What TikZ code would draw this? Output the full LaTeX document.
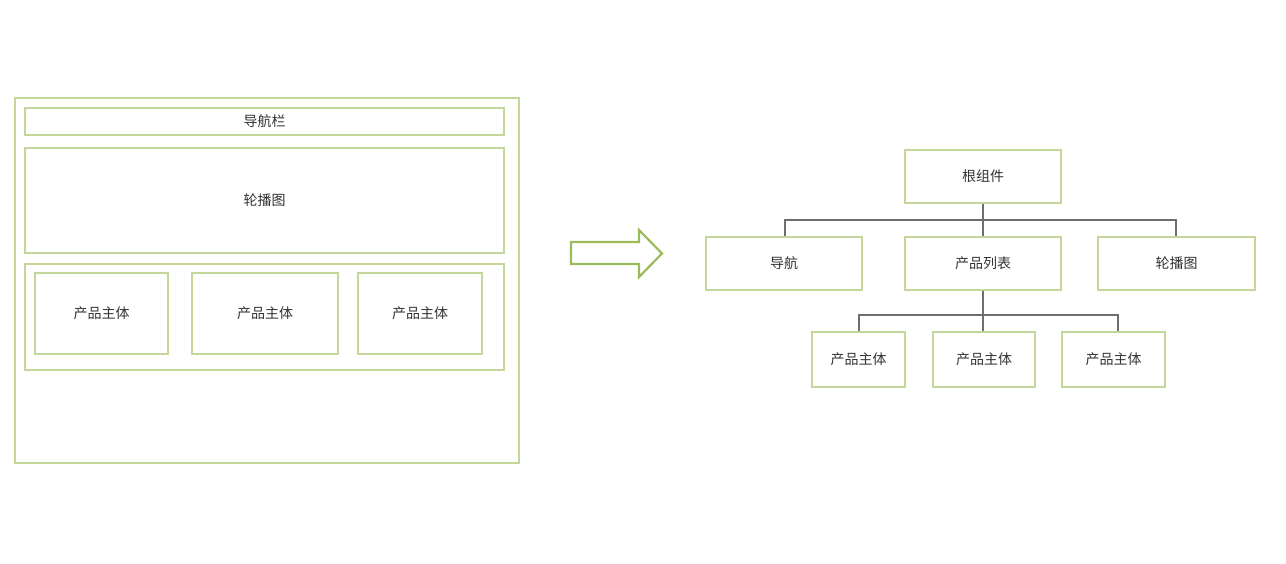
\documentclass[tikz,border=0pt]{standalone}
\usepackage{fontspec}
\newfontfamily\cjk{Noto Sans CJK SC}
\definecolor{boxgreen}{HTML}{C3D79B}
\definecolor{arrowgreen}{HTML}{9BBB59}
\definecolor{linegray}{HTML}{6E6E6E}
\definecolor{txt}{HTML}{333333}
\tikzset{
  gbox/.style={draw=boxgreen, line width=2pt, inner sep=0pt, font=\cjk\fontsize{14}{16}\selectfont, text=txt},
  conn/.style={draw=linegray, line width=1.6pt}
}
\newcommand{\boxat}[6]{% name, x1, y1, x2, y2, text
  \node[gbox, minimum width={(#4-#2)*1pt}, minimum height={(#5-#3)*1pt}] (#1) at ({(#2+#4)/2},{(#3+#5)/2}) {#6};}
\begin{document}
\begin{tikzpicture}[x=1pt,y=-1pt]
\useasboundingbox[fill=white] (0,0) rectangle (1286,564);
% left page mockup
\boxat{page}{15}{98}{519}{463}{}
\boxat{navbar}{25}{108}{504}{135}{导航栏}
\boxat{carousel}{25}{148}{504}{253}{轮播图}
\boxat{plist}{25}{264}{504}{370}{}
\boxat{pa}{35}{273}{168}{354}{产品主体}
\boxat{pb}{192}{273}{338}{354}{产品主体}
\boxat{pc}{358}{273}{482}{354}{产品主体}
% big arrow
\draw[draw=arrowgreen, line width=2.2pt, line join=miter]
  (571,242) -- (639,242) -- (639,230) -- (662,253.5) -- (639,277) -- (639,264) -- (571,264) -- cycle;
% component tree
\boxat{root}{905}{150}{1061}{203}{根组件}
\boxat{nav}{706}{237}{862}{290}{导航}
\boxat{list}{905}{237}{1061}{290}{产品列表}
\boxat{car}{1098}{237}{1255}{290}{轮播图}
\boxat{ga}{812}{332}{905}{387}{产品主体}
\boxat{gb}{933}{332}{1035}{387}{产品主体}
\boxat{gc}{1062}{332}{1165}{387}{产品主体}
\coordinate (j1) at (983,220);
\coordinate (j2) at (983,315);
\draw[conn] (root.south) -- (j1);
\draw[conn] (nav.north -| 785,0) |- (j1) -| (car.north -| 1176,0);
\draw[conn] (j1) -- (list.north);
\draw[conn] (list.south) -- (j2);
\draw[conn] (ga.north -| 859,0) |- (j2) -| (gc.north -| 1118,0);
\draw[conn] (j2) -- (gb.north -| j2);
\end{tikzpicture}
\end{document}
